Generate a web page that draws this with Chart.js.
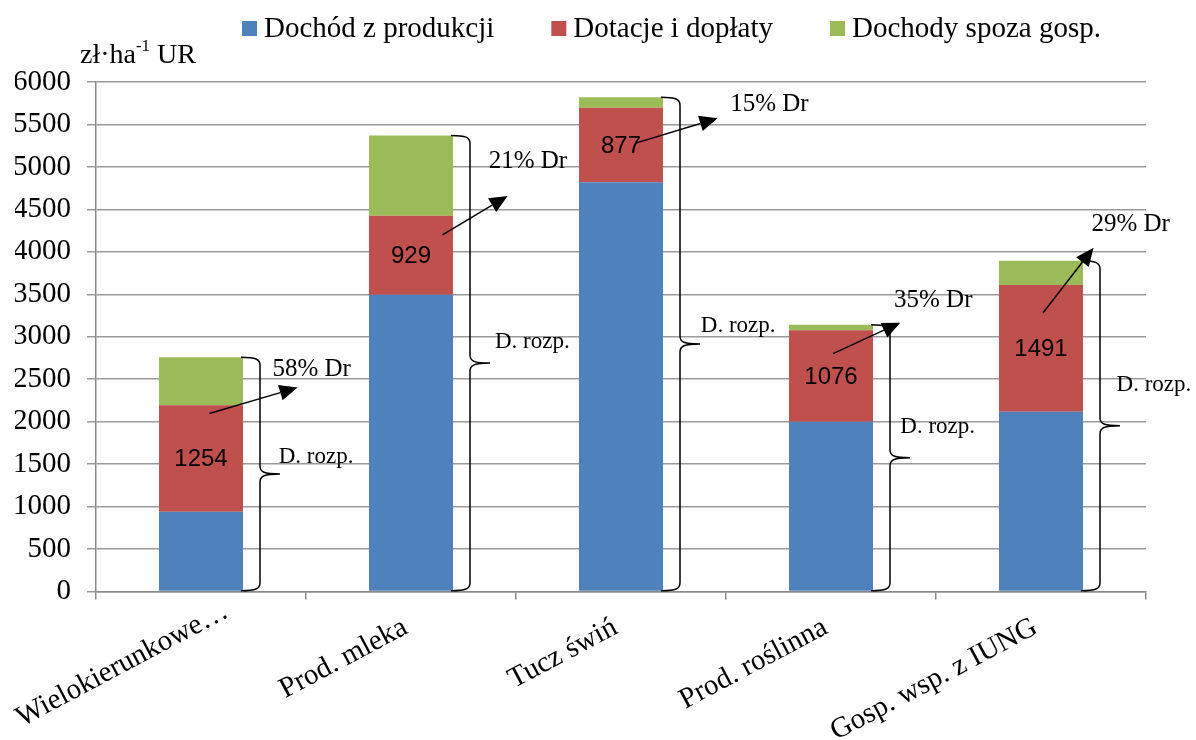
<!DOCTYPE html>
<html lang="pl">
<head>
<meta charset="utf-8">
<title>Dochód rozporządzalny</title>
<script src="https://cdn.jsdelivr.net/npm/chart.js@4.4.0/dist/chart.umd.min.js"></script>
<style>
  html, body { margin: 0; padding: 0; background: #fff; }
  #wrap { width: 1196px; height: 740px; }
</style>
</head>
<body>
<div id="wrap"><canvas id="chart" width="1196" height="740"></canvas></div>
<script>
// dane (zł/ha UR)
const categories = ["Wielokierunkowe…", "Prod. mleka", "Tucz świń", "Prod. roślinna", "Gosp. wsp. z IUNG"];
const seriesNames = ["Dochód z produkcji", "Dotacje i dopłaty", "Dochody spoza gosp."];
const incomeProduction = [940, 3495, 4820, 2000, 2118];
const subsidies = [1254, 929, 877, 1076, 1491];
const offFarmIncome = [564, 947, 123, 66, 285];
const shareLabels = ["58% Dr", "21% Dr", "15% Dr", "35% Dr", "29% Dr"];
const yMin = 0;
const yMax = 6000;
const yStep = 500;

// adnotacje dopisane ręcznie: [indeks kategorii, wartość na osi Y]
const arrowFrom = [[0.04, 2097], [1.15, 4200], [2.07, 5280], [3.01, 2802], [4.01, 3283]];
const arrowTo = [[0.46, 2402], [1.46, 4658], [2.46, 5574], [3.33, 3166], [4.25, 4047]];
const shareAt = [[0.34, 2543], [1.37, 4990], [2.52, 5656], [3.30, 3345], [4.24, 4246]];
const rozpAt = [[0.37, 1513], [1.40, 2869], [2.38, 3052], [3.33, 1865], [4.36, 2367]];

const SERIF = "'Liberation Serif', 'Times New Roman', serif";
const colors = ["#4F81BD", "#C0504D", "#9BBB59"];
const LABEL_ANGLE = 28 * Math.PI / 180;

function drawArrow(ctx, x1, y1, x2, y2) {
  const ang = Math.atan2(y2 - y1, x2 - x1);
  const len = 18, half = 8;
  const bx = x2 - len * Math.cos(ang), by = y2 - len * Math.sin(ang);
  ctx.beginPath();
  ctx.moveTo(x1, y1);
  ctx.lineTo(bx, by);
  ctx.stroke();
  ctx.beginPath();
  ctx.moveTo(x2, y2);
  ctx.lineTo(bx + half * Math.sin(ang), by - half * Math.cos(ang));
  ctx.lineTo(bx - half * Math.sin(ang), by + half * Math.cos(ang));
  ctx.closePath();
  ctx.fill();
}

function drawBrace(ctx, x, top, bottom, hook) {
  const mid = (top + bottom) / 2;
  ctx.beginPath();
  ctx.moveTo(x - hook, top);
  ctx.bezierCurveTo(x - 4, top, x, top + 2, x, top + 8);
  ctx.lineTo(x, mid - 8);
  ctx.bezierCurveTo(x, mid - 2, x + 4, mid, x + 20, mid);
  ctx.moveTo(x + 20, mid);
  ctx.bezierCurveTo(x + 4, mid, x, mid + 2, x, mid + 8);
  ctx.lineTo(x, bottom - 8);
  ctx.bezierCurveTo(x, bottom - 2, x - 4, bottom, x - hook, bottom);
  ctx.stroke();
}

const annotations = {
  id: "annotations",
  afterDatasetsDraw(chart) {
    const { ctx, scales: { x, y } } = chart;
    const blue = chart.getDatasetMeta(0).data;
    const red = chart.getDatasetMeta(1).data;
    const green = chart.getDatasetMeta(2).data;
    ctx.save();

    // wartości dotacji w środku czerwonych segmentów
    ctx.fillStyle = "#000";
    ctx.font = "24px 'Liberation Sans', Arial, sans-serif";
    ctx.textAlign = "center";
    ctx.textBaseline = "middle";
    red.forEach((bar, i) => {
      ctx.fillText(String(subsidies[i]), bar.x, (bar.y + bar.base) / 2 + 1);
    });

    // klamry "D. rozp."
    ctx.strokeStyle = "#000";
    ctx.lineWidth = 1.5;
    green.forEach((bar, i) => {
      const bx = bar.x + bar.width / 2 + 17;
      drawBrace(ctx, bx, bar.y, blue[i].base, 19);
    });

    ctx.font = "23px " + SERIF;
    ctx.textAlign = "left";
    ctx.textBaseline = "alphabetic";
    rozpAt.forEach(([c, v]) => {
      ctx.fillText("D. rozp.", x.getPixelForValue(c), y.getPixelForValue(v));
    });

    // strzałki i udział dotacji
    ctx.fillStyle = "#000";
    arrowFrom.forEach((from, i) => {
      const to = arrowTo[i];
      drawArrow(ctx,
        x.getPixelForValue(from[0]), y.getPixelForValue(from[1]),
        x.getPixelForValue(to[0]), y.getPixelForValue(to[1]));
    });
    ctx.font = "25px " + SERIF;
    shareAt.forEach(([c, v], i) => {
      ctx.fillText(shareLabels[i], x.getPixelForValue(c), y.getPixelForValue(v));
    });
    ctx.restore();
  },
  afterDraw(chart) {
    const { ctx, scales: { x } } = chart;
    ctx.save();
    ctx.fillStyle = "#000";
    ctx.textBaseline = "alphabetic";
    ctx.textAlign = "left";

    // legenda
    ctx.font = "29px " + SERIF;
    let lx = 242;
    chart.data.datasets.forEach((ds) => {
      ctx.fillStyle = ds.backgroundColor;
      ctx.fillRect(lx, 21, 15, 15);
      ctx.fillStyle = "#000";
      ctx.fillText(ds.label, lx + 22, 37);
      lx += 22 + ctx.measureText(ds.label).width + 57;
    });

    // tytuł osi Y: zł·ha⁻¹ UR
    let tx = 80;
    ctx.font = "28px " + SERIF;
    ctx.fillText("zł·ha", tx, 63);
    tx += ctx.measureText("zł·ha").width;
    ctx.font = "17px " + SERIF;
    ctx.fillText("-1", tx, 51);
    tx += ctx.measureText("-1").width;
    ctx.font = "28px " + SERIF;
    ctx.fillText(" UR", tx, 63);

    // obrócone etykiety kategorii; zbyt długie przesuwane wzdłuż tekstu, by zmieściły się w płótnie
    ctx.font = "29px " + SERIF;
    ctx.textAlign = "right";
    const cos = Math.cos(LABEL_ANGLE), sin = Math.sin(LABEL_ANGLE);
    categories.forEach((label, i) => {
      const w = ctx.measureText(label).width;
      let ax = x.getPixelForValue(i) - 2;
      let ay = x.bottom - x.height + 41;
      const leftEdge = ax - w * cos - 19 * sin;
      if (leftEdge < 13) {
        const s = (13 - leftEdge) / cos;
        ax += s * cos;
        ay -= s * sin;
      }
      ctx.save();
      ctx.translate(ax, ay);
      ctx.rotate(-LABEL_ANGLE);
      ctx.fillText(label, 0, 0);
      ctx.restore();
    });
    ctx.restore();
  }
};

new Chart(document.getElementById("chart"), {
  type: "bar",
  data: {
    labels: categories,
    datasets: [
      { label: seriesNames[0], data: incomeProduction, backgroundColor: colors[0] },
      { label: seriesNames[1], data: subsidies, backgroundColor: colors[1] },
      { label: seriesNames[2], data: offFarmIncome, backgroundColor: colors[2] }
    ]
  },
  options: {
    responsive: false,
    animation: false,
    layout: { padding: { top: 82, left: 15, right: 50, bottom: 0 } },
    datasets: { bar: { categoryPercentage: 1, barPercentage: 0.4 } },
    plugins: { legend: { display: false }, tooltip: { enabled: false } },
    scales: {
      x: {
        stacked: true,
        grid: { display: true, offset: true, drawOnChartArea: false, tickLength: 8, color: "#8a8a8a", lineWidth: 1.5 },
        border: { color: "#8a8a8a", width: 1.5 },
        ticks: { display: false },
        afterFit: (scale) => {
          scale.paddingLeft = 0;
          scale.paddingRight = 0;
          scale.height = 148.5;
        }
      },
      y: {
        stacked: true,
        min: yMin,
        max: yMax,
        grid: { color: "#9a9a9a", lineWidth: 1.5, tickLength: 9 },
        border: { color: "#8a8a8a", width: 1.5 },
        ticks: {
          stepSize: yStep,
          color: "#000",
          font: { family: SERIF, size: 29 },
          padding: 16,
          callback: (v) => String(v)
        },
        afterFit: (scale) => {
          scale.width = 81;
        }
      }
    }
  },
  plugins: [annotations]
});
</script>
</body>
</html>
